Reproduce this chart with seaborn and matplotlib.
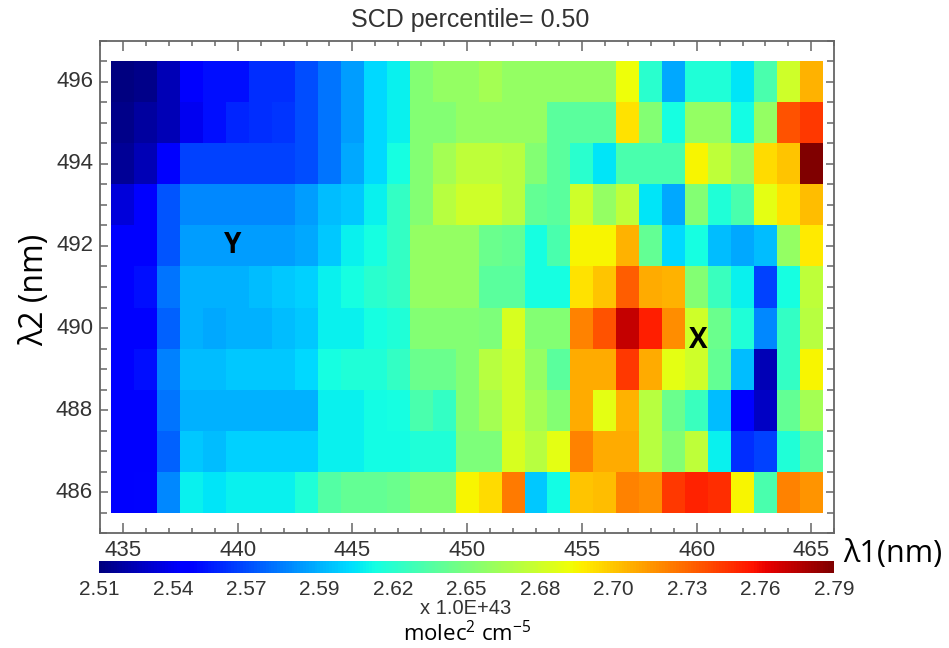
import numpy as np
import pandas as pd
import matplotlib
matplotlib.use("Agg")
import matplotlib.pyplot as plt
import seaborn as sns
from matplotlib.ticker import FixedLocator
from matplotlib import font_manager

# Wavelength grid (nm)
lambda1 = list(range(435, 466))
lambda2 = [496, 495, 494, 493, 492, 491, 490, 489, 488, 487, 486]

# Slant column density (x 1.0E+43 molec^2 cm^-5), one list per lambda2 row
scd_496 = [2.510, 2.513, 2.524, 2.541, 2.549, 2.549, 2.558, 2.558, 2.566, 2.577,
           2.588, 2.605, 2.611, 2.653, 2.658, 2.658, 2.664, 2.658, 2.658, 2.658,
           2.658, 2.658, 2.689, 2.622, 2.591, 2.619, 2.619, 2.608, 2.633, 2.678, 2.712]
scd_495 = [2.513, 2.518, 2.524, 2.538, 2.549, 2.555, 2.558, 2.560, 2.566, 2.577,
           2.588, 2.605, 2.611, 2.653, 2.653, 2.658, 2.658, 2.658, 2.658, 2.639,
           2.639, 2.639, 2.698, 2.653, 2.616, 2.658, 2.658, 2.614, 2.658, 2.740, 2.748]
scd_494 = [2.516, 2.524, 2.541, 2.563, 2.563, 2.563, 2.563, 2.563, 2.566, 2.577,
           2.591, 2.605, 2.616, 2.653, 2.664, 2.672, 2.672, 2.670, 2.653, 2.639,
           2.622, 2.608, 2.633, 2.633, 2.633, 2.692, 2.672, 2.658, 2.700, 2.706, 2.790]
scd_493 = [2.532, 2.541, 2.569, 2.583, 2.583, 2.583, 2.583, 2.583, 2.588, 2.597,
           2.600, 2.611, 2.625, 2.653, 2.670, 2.678, 2.678, 2.670, 2.642, 2.639,
           2.678, 2.658, 2.672, 2.608, 2.591, 2.653, 2.619, 2.633, 2.686, 2.698, 2.709]
scd_492 = [2.541, 2.544, 2.569, 2.588, 2.588, 2.588, 2.588, 2.588, 2.591, 2.600,
           2.611, 2.616, 2.625, 2.658, 2.658, 2.658, 2.644, 2.642, 2.616, 2.633,
           2.692, 2.692, 2.712, 2.642, 2.605, 2.616, 2.597, 2.591, 2.597, 2.658, 2.695]
scd_491 = [2.541, 2.549, 2.577, 2.594, 2.594, 2.594, 2.597, 2.600, 2.602, 2.611,
           2.616, 2.622, 2.625, 2.658, 2.658, 2.658, 2.639, 2.639, 2.616, 2.616,
           2.698, 2.706, 2.737, 2.714, 2.712, 2.653, 2.628, 2.611, 2.563, 2.616, 2.672]
scd_490 = [2.541, 2.544, 2.572, 2.594, 2.591, 2.594, 2.594, 2.597, 2.600, 2.611,
           2.611, 2.616, 2.619, 2.653, 2.653, 2.653, 2.650, 2.681, 2.653, 2.653,
           2.726, 2.740, 2.773, 2.756, 2.723, 2.678, 2.644, 2.619, 2.583, 2.625, 2.670]
scd_489 = [2.541, 2.549, 2.580, 2.597, 2.597, 2.600, 2.600, 2.600, 2.605, 2.616,
           2.619, 2.619, 2.625, 2.644, 2.644, 2.653, 2.670, 2.678, 2.658, 2.639,
           2.714, 2.714, 2.748, 2.714, 2.686, 2.678, 2.642, 2.597, 2.524, 2.625, 2.692]
scd_488 = [2.541, 2.544, 2.577, 2.594, 2.594, 2.594, 2.594, 2.594, 2.594, 2.611,
           2.611, 2.614, 2.616, 2.633, 2.625, 2.653, 2.664, 2.678, 2.664, 2.653,
           2.714, 2.686, 2.712, 2.670, 2.644, 2.628, 2.597, 2.541, 2.527, 2.642, 2.664]
scd_487 = [2.541, 2.541, 2.572, 2.600, 2.597, 2.602, 2.602, 2.602, 2.602, 2.611,
           2.611, 2.614, 2.614, 2.619, 2.619, 2.650, 2.650, 2.681, 2.670, 2.686,
           2.726, 2.714, 2.714, 2.670, 2.653, 2.672, 2.611, 2.558, 2.563, 2.619, 2.639]
scd_486 = [2.541, 2.546, 2.583, 2.611, 2.608, 2.611, 2.611, 2.611, 2.619, 2.636,
           2.642, 2.642, 2.644, 2.653, 2.653, 2.692, 2.700, 2.728, 2.600, 2.614,
           2.706, 2.709, 2.726, 2.723, 2.748, 2.754, 2.751, 2.692, 2.633, 2.726, 2.720]

scd_min, scd_max = 2.51, 2.79
cbar_labels = ["2.51", "2.54", "2.57", "2.59", "2.62", "2.65",
               "2.68", "2.70", "2.73", "2.76", "2.79"]
x_major = [435, 440, 445, 450, 455, 460, 465]
y_major = [486, 488, 490, 492, 494, 496]
x_range = (434.0, 466.0)
y_range = (485.0, 497.0)

scd = pd.DataFrame([scd_496, scd_495, scd_494, scd_493, scd_492, scd_491,
                    scd_490, scd_489, scd_488, scd_487, scd_486],
                   index=lambda2, columns=lambda1)

sns.set_theme(style="white")
available = {f.name for f in font_manager.fontManager.ttflist}
plain = ["Liberation Sans", "DejaVu Sans"]
narrow = (["Liberation Sans Narrow"] if "Liberation Sans Narrow" in available else []) + plain
office = ["Open Sans", "DejaVu Sans"]
plt.rcParams["font.family"] = plain

W, H = 949, 648
fig = plt.figure(figsize=(W / 100, H / 100), dpi=100)
ax = fig.add_axes([100 / W, 1 - 533.3 / H, 734.3 / W, 492.6 / H])
cax = fig.add_axes([99.3 / W, 1 - 572.7 / H, 734.7 / W, 12.0 / H])

sns.heatmap(scd, ax=ax, cmap="jet", vmin=scd_min, vmax=scd_max,
            cbar_ax=cax, linewidths=0,
            cbar_kws={"orientation": "horizontal",
                      "ticks": np.linspace(scd_min, scd_max, len(cbar_labels))})

# heatmap cell coordinates -> wavelength coordinates
x0 = lambda1[0] - 0.5
y0 = lambda2[0] + 0.5
def hx(v):
    return v - x0
def hy(v):
    return y0 - v

ax.set_xlim(hx(x_range[0]), hx(x_range[1]))
ax.set_ylim(hy(y_range[0]), hy(y_range[1]))
ax.xaxis.set_major_locator(FixedLocator([hx(v) for v in x_major]))
ax.xaxis.set_minor_locator(FixedLocator([hx(v) for v in np.arange(434, 467, 1.0)]))
ax.yaxis.set_major_locator(FixedLocator([hy(v) for v in y_major]))
ax.yaxis.set_minor_locator(FixedLocator([hy(v) for v in np.arange(485, 497.5, 0.5)]))
ax.set_xticklabels([str(v) for v in x_major], rotation=0)
ax.set_yticklabels([str(v) for v in y_major], rotation=0)
ax.set_xlabel("")
ax.set_ylabel("")

frame = "#666666"
for s in ax.spines.values():
    s.set_visible(True)
    s.set_color(frame)
    s.set_linewidth(1.3)
ax.tick_params(axis="both", which="both", direction="in", top=True, right=True,
               bottom=True, left=True, color=frame, width=1.1,
               labelcolor="#333333", labelsize=16)
ax.tick_params(axis="x", which="major", length=7.2, pad=5)
ax.tick_params(axis="x", which="minor", length=3.6)
ax.tick_params(axis="y", which="major", length=5.5, pad=5)
ax.tick_params(axis="y", which="minor", length=5.0)

cbar = ax.collections[0].colorbar
cbar.outline.set_visible(False)
cbar.ax.set_xticklabels(cbar_labels)
cbar.ax.tick_params(length=0, pad=5, labelsize=15, labelcolor="#333333")

# point labels
ax.text(hx(439.8), hy(492.0), "Y", fontsize=20, family=office,
        fontweight="bold", ha="center", va="center", color="black")
ax.text(hx(460.05), hy(489.7), "X", fontsize=20, family=office,
        fontweight="bold", ha="center", va="center", color="black")

fig.text(470 / W, 1 - 20 / H, "SCD percentile= 0.50", family=narrow,
         fontsize=18, ha="center", va="center", color="#333333")
fig.text(35 / W, 1 - 290 / H, "λ2 (nm)", family=office, fontsize=23,
         rotation=90, ha="center", va="center", color="black")
fig.text(843 / W, 1 - 554 / H, "λ1(nm)", family=office, fontsize=22,
         ha="left", va="center", color="black")
fig.text(466 / W, 1 - 609 / H, "x 1.0E+43", family=plain, fontsize=14.5,
         ha="center", va="center", color="#333333")
fig.text(467 / W, 1 - 634 / H, r"molec$^{\mathregular{2}}$ cm$^{\mathregular{-5}}$",
         family=office, fontsize=16, ha="center", va="center", color="black")

fig.savefig("out.png", dpi=100)
